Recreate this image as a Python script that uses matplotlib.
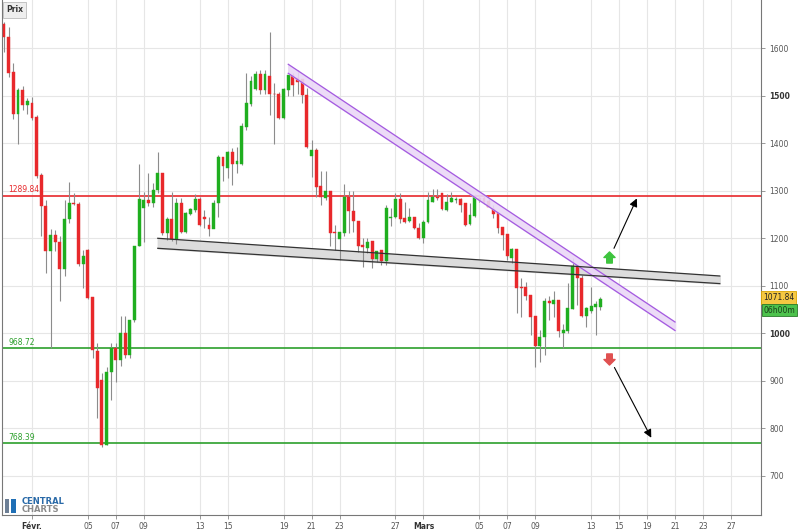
import matplotlib

matplotlib.use("Agg")
import matplotlib.pyplot as plt
import matplotlib.transforms as mtransforms
import numpy as np
from matplotlib.path import Path
from matplotlib.patches import Rectangle

# 8h candles (open, high, low, close)
OPENS = [
    1651.6, 1625, 1550, 1462, 1512, 1481, 1486, 1456, 1333, 1269,
    1174, 1207, 1193, 1135, 1240, 1275, 1273, 1146, 1176, 1076,
    963, 902, 765, 918, 968, 944, 1000, 954, 1028, 1183,
    1263, 1281, 1275, 1301, 1338, 1211, 1241, 1199, 1274, 1213,
    1251, 1260, 1283, 1246, 1228, 1220, 1274, 1372, 1348, 1381,
    1356, 1356, 1435, 1484, 1514, 1546, 1513, 1542, 1505, 1504,
    1453, 1513, 1543, 1538, 1535, 1502, 1374, 1386, 1311, 1284,
    1300, 1214, 1199, 1212, 1288, 1258, 1237, 1186, 1179, 1195,
    1156, 1176, 1153, 1243, 1246, 1283, 1242, 1237, 1244, 1221,
    1200, 1234, 1277, 1288, 1295, 1260, 1276, 1281, 1283, 1274,
    1230, 1248, 1286, 1284, 1279, 1262, 1254, 1223, 1209, 1158,
    1177, 1098, 1098, 1081, 1037, 973, 993, 1067, 1062, 1070,
    1000, 1004, 1051, 1141, 1116, 1037, 1046, 1055, 1056,
]
HIGHS = [
    1655, 1645, 1569, 1516, 1521, 1495, 1497, 1460, 1337, 1281,
    1219, 1218, 1204, 1281, 1318, 1295, 1277, 1176, 1178, 1077,
    979, 916, 930, 980, 980, 1037, 1037, 1028, 1184, 1357,
    1298, 1337, 1317, 1381, 1338, 1246, 1298, 1284, 1284, 1256,
    1263, 1294, 1288, 1260, 1246, 1281, 1376, 1372, 1383, 1391,
    1392, 1442, 1549, 1542, 1553, 1555, 1555, 1635, 1527, 1509,
    1516, 1544, 1549, 1555, 1535, 1516, 1407, 1390, 1341, 1341,
    1300, 1228, 1213, 1315, 1300, 1300, 1237, 1200, 1200, 1195,
    1174, 1176, 1270, 1263, 1295, 1295, 1277, 1263, 1246, 1233,
    1239, 1298, 1303, 1303, 1295, 1294, 1298, 1288, 1284, 1274,
    1274, 1294, 1291, 1289, 1284, 1270, 1254, 1223, 1209, 1179,
    1177, 1116, 1109, 1081, 1037, 1007, 1074, 1079, 1090, 1070,
    1020, 1105, 1158, 1144, 1123, 1055, 1098, 1067, 1077,
]
LOWS = [
    1593, 1539, 1452, 1399, 1470, 1461, 1449, 1327, 1204, 1126,
    968, 1173, 1067, 1121, 1232, 1270, 1141, 1095, 1072, 947,
    821, 760, 765, 860, 898, 931, 947, 947, 1023, 1183,
    1193, 1268, 1267, 1295, 1207, 1197, 1195, 1188, 1211, 1211,
    1249, 1256, 1225, 1221, 1204, 1246, 1246, 1320, 1327, 1313,
    1338, 1355, 1428, 1479, 1513, 1504, 1504, 1460, 1399, 1451,
    1451, 1500, 1500, 1504, 1486, 1390, 1330, 1288, 1270, 1281,
    1183, 1176, 1154, 1204, 1212, 1214, 1172, 1139, 1169, 1137,
    1151, 1144, 1144, 1225, 1242, 1232, 1232, 1235, 1219, 1198,
    1191, 1232, 1277, 1281, 1260, 1258, 1276, 1274, 1256, 1225,
    1228, 1246, 1277, 1272, 1265, 1242, 1211, 1176, 1155, 1149,
    1042, 1035, 1070, 996, 930, 940, 954, 1028, 1035, 993,
    968, 1000, 1051, 1060, 1035, 1014, 1042, 997, 1049,
]
CLOSES = [
    1623.5, 1549, 1462, 1512, 1481, 1489, 1454, 1331, 1269, 1174,
    1207, 1193, 1135, 1241, 1275, 1273, 1146, 1162, 1074, 965,
    884, 765, 919, 968, 944, 1000, 954, 1028, 1184, 1282,
    1281, 1275, 1302, 1338, 1211, 1241, 1199, 1274, 1213, 1253,
    1262, 1283, 1228, 1240, 1220, 1275, 1372, 1353, 1381, 1356,
    1362, 1437, 1486, 1532, 1546, 1513, 1546, 1504, 1503, 1453,
    1514, 1543, 1523, 1530, 1502, 1393, 1386, 1309, 1288, 1300,
    1212, 1211, 1213, 1288, 1258, 1237, 1184, 1181, 1193, 1156,
    1174, 1153, 1263, 1246, 1283, 1241, 1235, 1244, 1221, 1200,
    1235, 1281, 1287, 1284, 1262, 1277, 1284, 1283, 1270, 1228,
    1249, 1290, 1281, 1276, 1267, 1251, 1221, 1206, 1162, 1177,
    1095, 1096, 1079, 1035, 973, 993, 1067, 1063, 1070, 1004,
    1007, 1053, 1141, 1116, 1037, 1053, 1058, 1062, 1071.84,
]

TICK_POS = [6, 18, 24, 30, 42, 48, 60, 66, 72, 84, 90, 102, 108, 114, 126, 132, 138, 144, 150, 156]
TICK_LABELS = ["Févr.", "05", "07", "09", "13", "15", "19", "21", "23", "27",
               "Mars", "05", "07", "09", "13", "15", "19", "21", "23", "27"]
Y_TICKS = [700, 800, 900, 1000, 1100, 1200, 1300, 1400, 1500, 1600]

RESISTANCE = 1289.84
SUPPORTS = [968.72, 768.39]
LAST_PRICE = 1071.84
COUNTDOWN = "06h00m"

# drawn channels: (x0, x1), upper (y0, y1), lower (y0, y1)
PURPLE_X = (61.0, 144.0)
PURPLE_UP = (1566.6, 1023.8)
PURPLE_LO = (1547.6, 1005.9)
GREY_X = (33.0, 153.6)
GREY_UP = (1200.1, 1120.7)
GREY_LO = (1179.0, 1104.7)

RED = "#e8282b"
GREEN = "#1fae1f"
LINE_GREEN = "#2ca02c"
GRID = "#e6e6e6"
TXT = "#555555"

fig = plt.figure(figsize=(8.06, 5.32), dpi=100)
ax = fig.add_axes([2 / 806, 17 / 532, 759 / 806, 515 / 532])

idx = np.arange(len(OPENS))
o = np.array(OPENS)
h = np.array(HIGHS)
l = np.array(LOWS)
c = np.array(CLOSES)
up = c >= o
colors = np.where(up, GREEN, RED)

ax.vlines(idx, l, h, color="#8c8c8c", lw=0.8, zorder=3)
body_lo = np.minimum(o, c)
body_h = np.maximum(np.abs(c - o), 2.0)
ax.bar(idx, body_h, bottom=body_lo, width=0.62, color=colors,
       edgecolor=colors, linewidth=0.3, zorder=4)

# horizontal levels
ax.axhline(RESISTANCE, color=RED, lw=1.2, zorder=2)
for lvl in SUPPORTS:
    ax.axhline(lvl, color=LINE_GREEN, lw=1.2, zorder=2)
lbl = mtransforms.blended_transform_factory(ax.transAxes, ax.transData)
ax.text(0.008, RESISTANCE + 3, f"{RESISTANCE:.2f}", color=RED, fontsize=5.5,
        transform=lbl, va="bottom")
for lvl in SUPPORTS:
    ax.text(0.008, lvl + 3, f"{lvl:.2f}", color=LINE_GREEN, fontsize=5.5,
            transform=lbl, va="bottom")

# channels
xs = np.array(PURPLE_X)
ax.fill_between(xs, PURPLE_LO, PURPLE_UP, color="#ead7f7", zorder=5, alpha=0.9)
ax.plot(xs, PURPLE_UP, color="#a45ae0", lw=0.9, zorder=6)
ax.plot(xs, PURPLE_LO, color="#a45ae0", lw=0.9, zorder=6)
xs = np.array(GREY_X)
ax.fill_between(xs, GREY_LO, GREY_UP, color="#d9d9d9", zorder=1.5, alpha=0.9)
ax.plot(xs, GREY_UP, color="#333333", lw=0.9, zorder=6)
ax.plot(xs, GREY_LO, color="#333333", lw=0.9, zorder=6)

# fat arrows
up_arrow = Path([(-0.5, 0), (-1, 0), (0, 1), (1, 0), (0.5, 0), (0.5, -1), (-0.5, -1), (-0.5, 0)])
down_arrow = Path([(x, -y) for x, y in up_arrow.vertices])
ax.plot([129.8], [1160], marker=up_arrow, ms=8, color="#3ec43e", mec="#3ec43e", zorder=7)
ax.plot([129.8], [946], marker=down_arrow, ms=8, color="#e05050", mec="#e05050", zorder=7)
ax.annotate("", xy=(135.8, 1284), xytext=(130.9, 1179),
            arrowprops=dict(arrowstyle="-|>", color="k", lw=0.8, mutation_scale=12,
                            shrinkA=0, shrinkB=0), zorder=7)
ax.annotate("", xy=(138.9, 780), xytext=(131.0, 928),
            arrowprops=dict(arrowstyle="-|>", color="k", lw=0.8, mutation_scale=12,
                            shrinkA=0, shrinkB=0), zorder=7)

# axes
ax.set_xlim(-0.43, 162.45)
ax.set_ylim(617.3, 1702)
ax.yaxis.tick_right()
ax.set_yticks(Y_TICKS)
ax.set_yticklabels([str(v) for v in Y_TICKS])
ax.set_xticks(TICK_POS)
ax.set_xticklabels(TICK_LABELS)
ax.tick_params(axis="y", length=3, width=0.6, color="#888888", labelsize=5.5,
               labelcolor=TXT, pad=3)
ax.tick_params(axis="x", length=3, width=0.6, color="#888888", labelsize=5.5,
               labelcolor=TXT, pad=2)
for t in ax.get_xticklabels():
    if t.get_text() in ("Févr.", "Mars"):
        t.set_fontweight("bold")
        t.set_color("#333333")
for t in ax.get_yticklabels():
    if t.get_text() in ("1000", "1500"):
        t.set_fontweight("bold")
        t.set_color("#333333")
ax.grid(True, color=GRID, lw=0.8, zorder=0)
ax.set_axisbelow(True)
ax.spines["top"].set_visible(False)
for s in ("left", "right", "bottom"):
    ax.spines[s].set_color("#777777")
    ax.spines[s].set_linewidth(0.8)

# price tags on the right
ax.text(1.003, LAST_PRICE + 3, f"{LAST_PRICE:.2f}", transform=lbl, fontsize=5.5,
        va="center", ha="left", color="#222222",
        bbox=dict(boxstyle="square,pad=0.25", fc="#f5c842", ec="#d9a400", lw=0.6))
ax.text(1.003, 1049, COUNTDOWN, transform=lbl, fontsize=5.5,
        va="center", ha="left", color="#1a3d1a",
        bbox=dict(boxstyle="square,pad=0.2", fc="#4cc24c", ec="#2a7a2a", lw=0.6))

# "Prix" button
fig.text(6 / 806, 1 - 10 / 532, "Prix", fontsize=5.5, color="#333333", va="center",
         ha="left", fontweight="bold",
         bbox=dict(boxstyle="square,pad=0.45", fc="#eeeeee", ec="#bbbbbb", lw=0.6))

# logo
fig.patches.append(Rectangle((5 / 806, 1 - 513 / 532), 4 / 806, 14 / 532,
                             transform=fig.transFigure, fc="#6d7f95", ec="none"))
fig.patches.append(Rectangle((11 / 806, 1 - 513 / 532), 5 / 806, 14 / 532,
                             transform=fig.transFigure, fc="#1f6fb5", ec="none"))
fig.text(22 / 806, 1 - 502 / 532, "CENTRAL", fontsize=6, fontweight="bold",
         color="#2a6aa8", va="center", ha="left")
fig.text(22 / 806, 1 - 510 / 532, "CHARTS", fontsize=6, fontweight="bold",
         color="#8a8a8a", va="center", ha="left")

fig.savefig("out.png", dpi=100)
